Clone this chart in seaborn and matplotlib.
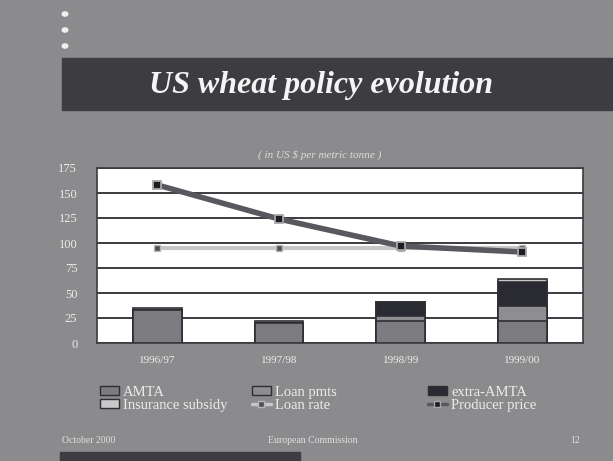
import numpy as np
import pandas as pd
import matplotlib
matplotlib.use("Agg")
import matplotlib.pyplot as plt
from matplotlib.patches import Rectangle, Circle, Patch
from matplotlib.lines import Line2D
import seaborn as sns

# data (US$ per metric tonne)
seasons = ["1996/97", "1997/98", "1998/99", "1999/00"]
amta = [33, 20, 22, 22]
loan_pmts = [0, 0, 5, 15]
extra_amta = [0, 0, 14, 24]
insurance = [2, 2, 0, 3]
loan_rate = [95, 95, 95, 95]
producer_price = [158, 124, 97, 91]
yticks = [0, 25, 50, 75, 100, 125, 150, 175]

df = pd.DataFrame({"season": seasons, "AMTA": amta, "Loan pmts": loan_pmts,
                   "extra-AMTA": extra_amta, "Insurance subsidy": insurance})
# cumulative heights, drawn from the top segment down
df["c1"] = df["AMTA"]
df["c2"] = df["c1"] + df["Loan pmts"]
df["c3"] = df["c2"] + df["extra-AMTA"]
df["c4"] = df["c3"] + df["Insurance subsidy"]

sns.set_style("white")
plt.rcParams["font.family"] = ["Liberation Serif", "DejaVu Serif"]

bg = "#8b8b8d"
txt = "#ececec"
c_amta = "#7c7c80"
c_loan = "#8e8e92"
c_extra = "#2a2a33"
c_ins = "#c9c9cb"
edge = "#2e2e33"

fig = plt.figure(figsize=(6.13, 4.61), dpi=100)
fig.patch.set_facecolor(bg)

# title band, dots, footer bar
fig.patches.append(Rectangle((62 / 613, 1 - 110 / 461), 1, 52 / 461,
                             transform=fig.transFigure, color="#3c3c41", zorder=0))
for yy in [14, 30, 46]:
    fig.patches.append(Circle((65 / 613, 1 - yy / 461), 2.8 / 613,
                              transform=fig.transFigure, color="#f0f0f0"))
fig.patches.append(Rectangle((60 / 613, 0), 240 / 613, 9 / 461,
                             transform=fig.transFigure, color="#3c3c41", zorder=0))

fig.text(321 / 613, 1 - 85 / 461, "US wheat policy evolution", ha="center", va="center",
         color="#f4f4f4", fontsize=23, fontweight="bold", fontstyle="italic")
fig.text(320 / 613, 1 - 155 / 461, "( in US $ per metric tonne )", ha="center", va="center",
         color="#dcdcdc", fontsize=8, fontstyle="italic")

ax = fig.add_axes([96.7 / 613, 1 - 343 / 461, 486.3 / 613, 175 / 461])
ax.set_facecolor("white")

for col, c in [("c4", c_ins), ("c3", c_extra), ("c2", c_loan), ("c1", c_amta)]:
    sns.barplot(data=df, x="season", y=col, color=c, width=0.4, saturation=1,
                edgecolor=edge, linewidth=1.2, ax=ax, zorder=3)

sns.pointplot(x=seasons, y=loan_rate, color="#c6c6c8", markers="s", linestyles="-",
              markersize=4, linewidth=3, ax=ax, zorder=4,
              markerfacecolor="#505055", markeredgecolor="#b8b8b8", markeredgewidth=1)
sns.pointplot(x=seasons, y=producer_price, color="#58585e", markers="s", linestyles="-",
              markersize=6, linewidth=4, ax=ax, zorder=5,
              markerfacecolor="#1e1e22", markeredgecolor="#a8a8a8", markeredgewidth=1.3)

ax.set_xlim(-0.5, 3.5)
ax.set_ylim(0, 175)
ax.set_yticks(yticks)
ax.yaxis.grid(True, color="#3a3a3f", linewidth=1.4)
ax.set_axisbelow(True)
for s in ax.spines.values():
    s.set_color("#3a3a3f")
    s.set_linewidth(1.2)
ax.set_xlabel("")
ax.set_ylabel("")
ax.set_xticks(range(len(seasons)))
ax.set_xticklabels(seasons)
ax.set_xticks([-0.5, 0.5, 1.5, 2.5, 3.5], minor=True)
ax.tick_params(axis="x", which="major", length=0, pad=9, labelsize=8, labelcolor=txt)
ax.tick_params(axis="x", which="minor", length=3, color="#3a3a3f", direction="out")
ax.tick_params(axis="y", length=0, pad=14, labelsize=9, labelcolor=txt)

def box(c):
    return Patch(facecolor=c, edgecolor=edge, linewidth=1)

cols = [
    (box(c_amta), "AMTA", box(c_ins), "Insurance subsidy", 100),
    (box(c_loan), "Loan pmts", Line2D([], [], color="#c6c6c8", lw=2.5, marker="s", ms=4,
                                     mfc="#505055", mec="#b8b8b8", mew=1), "Loan rate", 252),
    (box(c_extra), "extra-AMTA", Line2D([], [], color="#58585e", lw=2.5, marker="s", ms=5,
                                       mfc="#1e1e22", mec="#a8a8a8", mew=1), "Producer price", 428),
]
for h1, l1, h2, l2, xx in cols:
    fig.legend([h1, h2], [l1, l2], loc="upper left", bbox_to_anchor=(xx / 613, 1 - 386 / 461),
               frameon=False, fontsize=10.5, labelcolor=txt, handlelength=1.3, handleheight=0.6,
               handletextpad=0.3, labelspacing=0.0, borderpad=0, borderaxespad=0)

fig.text(62 / 613, 1 - 440 / 461, "October 2000", color="#e0e0e0", fontsize=7, va="center")
fig.text(268 / 613, 1 - 440 / 461, "European Commission", color="#e0e0e0", fontsize=7, va="center")
fig.text(575 / 613, 1 - 440 / 461, "12", color="#e0e0e0", fontsize=7, va="center", ha="center")

fig.savefig("out.png", dpi=100, facecolor=fig.get_facecolor())
